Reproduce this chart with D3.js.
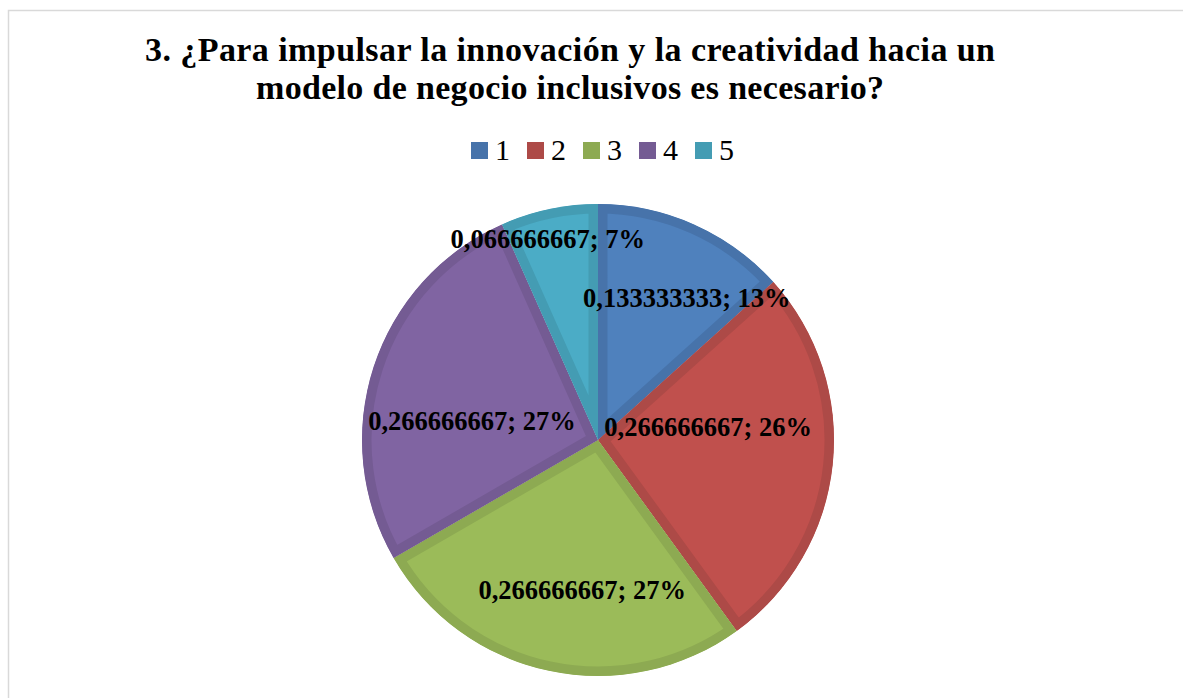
<!DOCTYPE html>
<html>
<head>
<meta charset="utf-8">
<script src="https://cdn.jsdelivr.net/npm/d3@7"></script>
<style>
  body { margin: 0; background: #fff; }
  svg { display: block; }
</style>
</head>
<body>
<div id="chart"></div>
<script>
var w = 1183,
    h = 698;

// data
var categories = ['1', '2', '3', '4', '5'];
var values = [0.133333333, 0.266666667, 0.266666667, 0.266666667, 0.066666667];
var pctLabels = ['13%', '26%', '27%', '27%', '7%'];
var titleLines = ['3. ¿Para impulsar la innovación y la creatividad hacia un',
                  'modelo de negocio inclusivos es necesario?'];

var fills = ['#4F81BD', '#C0504D', '#9BBB59', '#8064A2', '#4BACC6'];
var bands = ['#4773AA', '#AD4A47', '#8DAA52', '#745B93', '#449CB3'];

// Excel "best fit" label spots: fraction of radius and angle nudge (deg)
var labelPlace = [[0.71, 8], [0.47, -13], [0.64, -6], [0.54, -9.5], [0.88, -2]];

var serif = '"Liberation Serif", "Times New Roman", serif';

var svg = d3.select('#chart').append('svg')
    .attr('width', w)
    .attr('height', h);

// chart frame
svg.append('rect')
    .attr('x', 8.5).attr('y', 10.5)
    .attr('width', w + 20).attr('height', h + 20)
    .attr('fill', 'none')
    .attr('stroke', '#d9d9d9')
    .attr('stroke-width', 1.5);

// title
var titleWidths = [850, 628];
titleLines.forEach(function(t, i) {
  var txt = svg.append('text')
      .attr('x', 570)
      .attr('y', 61 + i * 38)
      .attr('text-anchor', 'middle')
      .style('font-family', serif)
      .style('font-weight', 'bold')
      .style('font-size', '34px')
      .text(t);
  var len = txt.node().getComputedTextLength();
  var ls = (titleWidths[i] - len) / (t.length - 1);
  txt.style('letter-spacing', ls + 'px')
     .attr('x', 570 + ls / 2);
});

// legend
var legend = svg.append('g').attr('transform', 'translate(471,142)');
var item = legend.selectAll('g').data(categories).enter().append('g')
    .attr('transform', function(d, i) { return 'translate(' + (i * 56) + ',0)'; });
item.append('rect')
    .attr('width', 17).attr('height', 17)
    .attr('fill', function(d, i) { return bands[i]; });
item.append('text')
    .attr('x', 24).attr('y', 18)
    .style('font-family', serif)
    .style('font-size', '30px')
    .text(function(d) { return d; });

// pie
var cx = 598, cy = 440, r = 236;
var pie = d3.pie().sort(null).value(function(d) { return d; });
var arc = d3.arc().innerRadius(0).outerRadius(r);
var arcs = pie(values);

var g = svg.append('g').attr('transform', 'translate(' + cx + ',' + cy + ')');
var defs = svg.append('defs');

defs.selectAll('clipPath').data(arcs).enter().append('clipPath')
    .attr('id', function(d, i) { return 'clip' + i; })
    .append('path')
    .attr('d', arc);

g.selectAll('path.slice').data(arcs).enter().append('path')
    .attr('class', 'slice')
    .attr('d', arc)
    .attr('fill', function(d, i) { return fills[i]; })
    .attr('stroke', function(d, i) { return bands[i]; })
    .attr('stroke-width', 19)
    .attr('stroke-linejoin', 'miter')
    .attr('clip-path', function(d, i) { return 'url(#clip' + i + ')'; });

// data labels
function fmt(v) { return v.toFixed(9).replace('.', ','); }

g.selectAll('text.lbl').data(arcs).enter().append('text')
    .attr('class', 'lbl')
    .attr('transform', function(d, i) {
      var p = labelPlace[i];
      var a = (d.startAngle + d.endAngle) / 2 + p[1] * Math.PI / 180;
      var la = d3.arc().innerRadius(r * p[0]).outerRadius(r * p[0]);
      var c = la.centroid({startAngle: a, endAngle: a});
      return 'translate(' + c[0] + ',' + c[1] + ')';
    })
    .attr('text-anchor', 'middle')
    .attr('dy', '0.35em')
    .style('font-family', serif)
    .style('font-weight', 'bold')
    .style('font-size', '26.5px')
    .style('fill', '#000')
    .text(function(d, i) { return fmt(values[i]) + '; ' + pctLabels[i]; });
</script>
</body>
</html>
